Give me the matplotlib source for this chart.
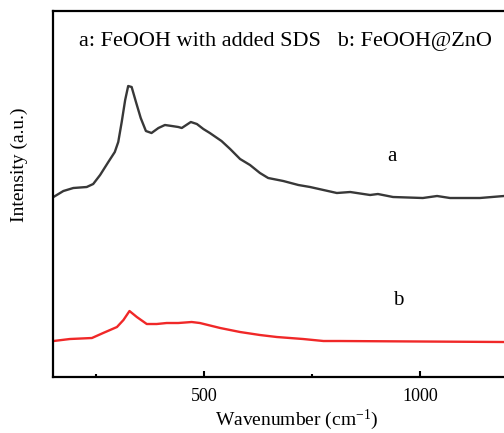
import numpy as np
import matplotlib
matplotlib.use("Agg")
import matplotlib.pyplot as plt
from matplotlib.ticker import FixedLocator

plt.rcParams['font.family'] = ['Liberation Serif', 'DejaVu Serif']
plt.rcParams['mathtext.default'] = 'regular'

# curve a: FeOOH with added SDS
wn_a = [151, 174, 197, 228, 243, 259, 278, 293, 301, 309, 317, 324, 332, 342,
        353, 365, 378, 394, 409, 425, 440, 448, 469, 483, 498, 513, 540, 560,
        583, 606, 629, 648, 683, 718, 745, 776, 807, 838, 884, 902, 937, 1006,
        1039, 1069, 1138, 1194]
int_a = [180, 186, 189, 190, 193, 202, 215, 225, 235, 255, 277, 291, 290, 275,
         259, 246, 244, 249, 252, 251, 250, 249, 255, 253, 248, 244, 236, 228,
         218, 212, 204, 199, 196, 192, 190, 187, 184, 185, 182, 183, 180, 179,
         181, 179, 179, 181]

# curve b: FeOOH@ZnO
wn_b = [151, 189, 240, 266, 298, 313, 327, 344, 367, 390, 413, 440, 471, 490,
        537, 583, 629, 668, 729, 776, 814, 1194]
int_b = [36, 38, 39, 44, 50, 57, 66, 60, 53, 53, 54, 54, 55, 54,
         49, 45, 42, 40, 38, 36, 36, 35]

fig = plt.figure(figsize=(5.04, 4.33), dpi=100)
ax = fig.add_axes([0.1052, 0.1293, 0.9, 0.8453])

ax.plot(wn_a, int_a, color='#383838', lw=1.7)
ax.plot(wn_b, int_b, color='#f02828', lw=1.7)

ax.set_xlim(150, 1200)
ax.set_ylim(0, 366)

for s in ax.spines.values():
    s.set_linewidth(1.6)
ax.spines['right'].set_visible(False)

ax.xaxis.set_major_locator(FixedLocator([500, 1000]))
ax.xaxis.set_minor_locator(FixedLocator([250, 750]))
ax.tick_params(axis='x', which='major', direction='in', length=4.5, width=1.5,
               labelsize=13, pad=8)
ax.tick_params(axis='x', which='minor', direction='in', length=2.5, width=1.5)
ax.tick_params(axis='y', left=False, labelleft=False)

ax.set_xlabel('Wavenumber (cm$^{-1}$)', fontsize=14)
ax.xaxis.set_label_coords(0.536, -0.085)
ax.set_ylabel('Intensity (a.u.)', fontsize=14)
ax.yaxis.set_label_coords(-0.055, 0.58)

ax.text(687, 335, 'a: FeOOH with added SDS   b: FeOOH@ZnO', fontsize=16,
        ha='center', va='center')
ax.text(935, 221, 'a', fontsize=15, ha='center', va='center')
ax.text(949, 77, 'b', fontsize=15, ha='center', va='center')

fig.savefig('out.png', dpi=100)
